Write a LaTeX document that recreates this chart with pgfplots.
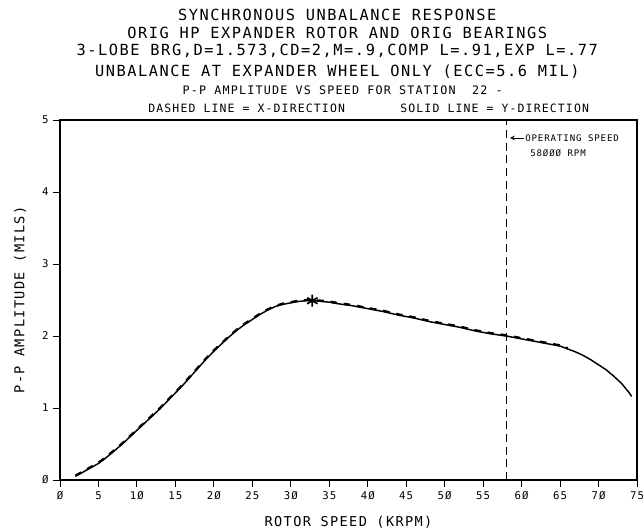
\documentclass[border=0pt]{standalone}
\usepackage{pgfplots}
\pgfplotsset{compat=1.18}
\usepackage{pgfplotstable}
\usepackage{fontspec}
\setmainfont{DejaVu Sans Mono}[LetterSpace=10]
\newcommand\fs[1]{\fontsize{#1}{#1}\selectfont}

\pgfplotstableread{
x y
2.0 0.05
3 0.11
4 0.17
5 0.23
6 0.31
7 0.40
8 0.49
9 0.59
10 0.69
11 0.79
12 0.89
13 0.99
14 1.10
15 1.21
16 1.32
17 1.44
18 1.56
19 1.68
20 1.79
21 1.89
22 1.99
23 2.08
24 2.16
25 2.23
26 2.30
27 2.36
28 2.41
29 2.44
30 2.46
31 2.48
32 2.49
33 2.49
34 2.48
35 2.47
36 2.45
38 2.42
40 2.38
42 2.34
44 2.29
46 2.25
48 2.20
50 2.16
52 2.12
54 2.07
56 2.03
58 2.00
60 1.96
62 1.92
64 1.88
65 1.86
66 1.82
67 1.78
68 1.73
69 1.67
70 1.60
71 1.53
72 1.44
73 1.34
74 1.21
74.3 1.16
}\ydir

\pgfplotstableread{
x y
2.0 0.06
3 0.12
4 0.18
5 0.24
6 0.32
7 0.41
8 0.50
9 0.60
10 0.70
11 0.80
12 0.90
13 1.00
14 1.11
15 1.22
16 1.33
17 1.45
18 1.57
19 1.69
20 1.80
21 1.90
22 2.00
23 2.09
24 2.17
25 2.24
26 2.31
27 2.37
28 2.42
29 2.45
30 2.47
31 2.49
32 2.50
33 2.50
34 2.49
35 2.48
36 2.46
38 2.43
40 2.39
42 2.35
44 2.30
46 2.26
48 2.21
50 2.17
52 2.13
54 2.08
56 2.04
58 2.01
60 1.97
62 1.93
64 1.89
65 1.87
66 1.83
}\xdir

\begin{document}
\begin{tikzpicture}
\begin{axis}[
  scale only axis, width=432.75pt, height=270pt,
  at={(0,0)}, anchor=south west,
  xmin=0, xmax=75, ymin=0, ymax=5,
  xtick={0,5,...,75},
  xticklabels={Ø,5,1Ø,15,2Ø,25,3Ø,35,4Ø,45,5Ø,55,6Ø,65,7Ø,75},
  ytick={0,1,2,3,4,5},
  yticklabels={Ø,1,2,3,4,5},
  tick align=outside, xtick pos=bottom, ytick pos=left,
  major tick length=5pt,
  tick style={line width=0.7pt, black},
  ticklabel style={font=\fs{8}},
  axis line style={line width=1pt},
]
\addplot[black, line width=1.1pt] table {\ydir};
\addplot[black, line width=1.7pt, dash pattern=on 5pt off 5pt] table {\xdir};
\addplot[black, line width=0.6pt, dash pattern=on 6pt off 3.5pt] coordinates {(58,0) (58,5)};
\addplot[black, only marks, mark=asterisk, mark size=4.5pt, line width=1.3pt] coordinates {(32.8,2.49)};
\end{axis}
% titles
\node[font=\fs{11.5}] at (208pt,348.75pt) {SYNCHRONOUS UNBALANCE RESPONSE};
\node[font=\fs{11.5}] at (208pt,335.25pt) {ORIG HP EXPANDER ROTOR AND ORIG BEARINGS};
\node[font=\fs{11.5}] at (208pt,321.5pt) {3-LOBE BRG,D=1.573,CD=2,M=.9,COMP L=.91,EXP L=.77};
\node[font=\fs{11.5}] at (208pt,306.5pt) {UNBALANCE AT EXPANDER WHEEL ONLY (ECC=5.6 MIL)};
\node[font=\fs{8.8}] at (212pt,292pt) {P-P AMPLITUDE VS SPEED FOR STATION\ \ 22 -};
\node[font=\fs{8.6}] at (140pt,279pt) {DASHED LINE = X-DIRECTION};
\node[font=\fs{8.6}] at (326pt,279pt) {SOLID LINE = Y-DIRECTION};
% operating speed annotation
\draw[->, line width=0.6pt, >=stealth] (348pt,256.5pt) -- (337.5pt,256.5pt);
\node[font=\fs{6.8}, anchor=west, inner sep=0pt] at (348.75pt,256.5pt) {OPERATING SPEED};
\node[font=\fs{6.8}, anchor=west, inner sep=0pt] at (352.5pt,245.25pt) {58ØØØ RPM};
% axis labels
\node[font=\fs{10.2}] at (216.4pt,-31.5pt) {ROTOR SPEED (KRPM)};
\node[font=\fs{10.2}, rotate=90] at (-30pt,135pt) {P-P AMPLITUDE (MILS)};
\pgfresetboundingbox
\path (-45pt,-38.25pt) rectangle (438pt,360pt);
\end{tikzpicture}
\end{document}
